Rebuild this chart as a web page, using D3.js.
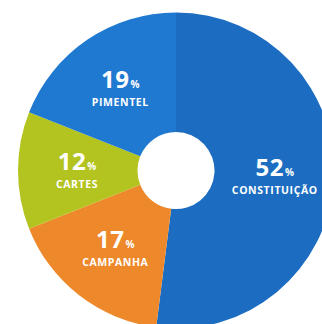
<!DOCTYPE html>
<html>
<head>
<meta charset="utf-8">
<script src="https://cdn.jsdelivr.net/npm/d3@7"></script>
<style>
  body { margin: 0; background: #fff; }
  text { font-family: "Open Sans", "DejaVu Sans", sans-serif; font-weight: 700; fill: #fff; }
</style>
</head>
<body>
<div id="chart"></div>
<script>
const WIDTH = 322, HEIGHT = 324,
CX = 176, CY = 170.5,
OUTER = 158, INNER = 38.5;

// slices, clockwise from 12 o'clock
const categories = ["CONSTITUIÇÃO", "CAMPANHA", "CARTES", "PIMENTEL"];
const values = [52, 17, 12, 19];
const colors = ["#1c6dc1", "#ee892b", "#b3c31f", "#1f79d0"];

const data = categories.map((c, i) => ({name: c, value: values[i], color: colors[i]}));

const svg = d3.select('#chart')
        .append('svg')
        .attr('width', WIDTH)
        .attr('height', HEIGHT);

const g = svg.append('g')
        .attr('transform', `translate(${CX},${CY})`);

const pie = d3.pie()
        .sort(null) // keep the order above
        .value(d => d.value);

const arc = d3.arc()
        .innerRadius(INNER)
        .outerRadius(OUTER);

const labelArc = d3.arc() // labels sit around the middle of the ring
        .innerRadius(99)
        .outerRadius(99);

const slices = pie(data);

g.selectAll('.slice')
        .data(slices)
        .enter()
        .append('path')
        .classed('slice', true)
        .attr('d', arc)
        .attr('fill', d => d.data.color);

const labels = g.selectAll('.label')
        .data(slices)
        .enter()
        .append('g')
        .classed('label', true)
        .attr('transform', d => `translate(${labelArc.centroid(d)})`);

const num = labels.append('text')
        .attr('text-anchor', 'middle')
        .attr('y', -1);
num.append('tspan')
        .attr('font-size', 24)
        .attr('letter-spacing', 0.5)
        .text(d => d.data.value);
num.append('tspan')
        .attr('font-size', 10)
        .attr('dx', 1)
        .text('%');

labels.append('text')
        .attr('text-anchor', 'middle')
        .attr('y', 17)
        .attr('font-size', 10.5)
        .attr('letter-spacing', 0.6)
        .text(d => d.data.name);
</script>
</body>
</html>
